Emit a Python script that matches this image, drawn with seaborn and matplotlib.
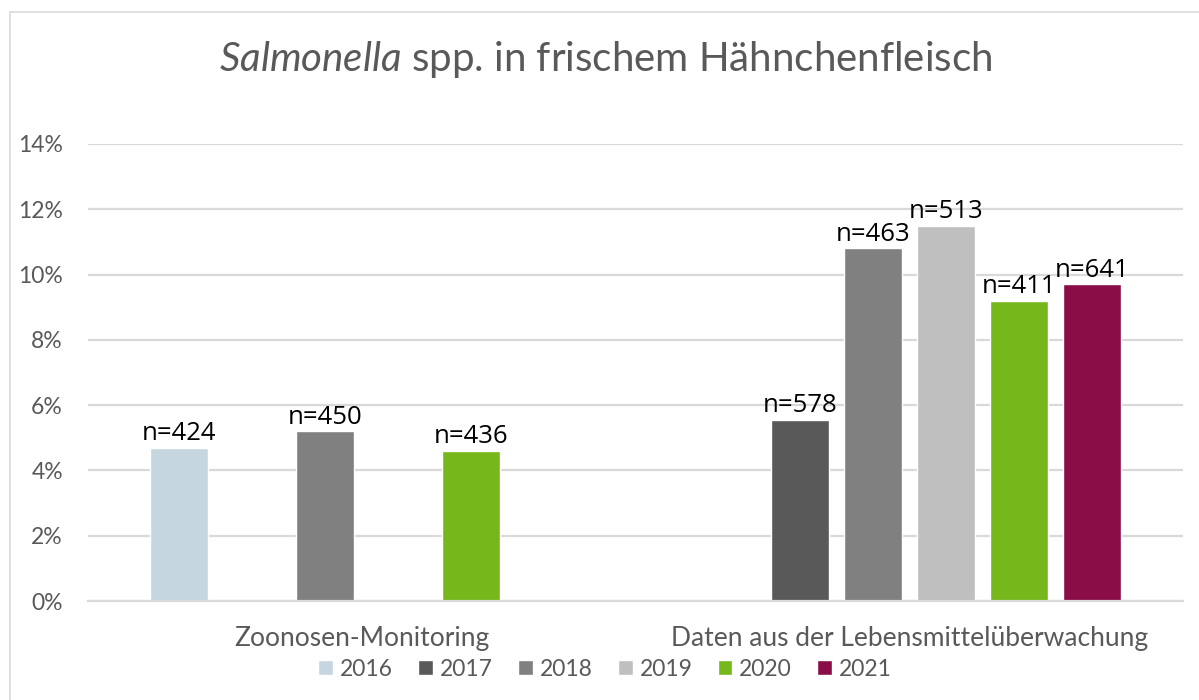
import matplotlib
matplotlib.use("Agg")
import matplotlib.pyplot as plt
import seaborn as sns
import pandas as pd
from matplotlib.ticker import PercentFormatter, MultipleLocator
from matplotlib.patches import Rectangle

# ---- data ----
categories = ["Zoonosen-Monitoring", "Daten aus der Lebensmittelüberwachung"]
years = ["2016", "2017", "2018", "2019", "2020", "2021"]
zoonosen_years = ["2016", "2018", "2020"]
zoonosen_values = [4.7, 5.2, 4.6]
zoonosen_n = [424, 450, 436]
lmu_years = ["2017", "2018", "2019", "2020", "2021"]
lmu_values = [5.55, 10.8, 11.5, 9.2, 9.7]
lmu_n = [578, 463, 513, 411, 641]
colors = ["#C5D6E0", "#595959", "#808080", "#BFBFBF", "#76B71B", "#8A0D47"]
title_text = r"$\mathit{Salmonella}$ spp. in frischem Hähnchenfleisch"

rows = []
for y, v, n in zip(zoonosen_years, zoonosen_values, zoonosen_n):
    rows.append({"Kategorie": categories[0], "Jahr": y, "Anteil": v, "n": n})
for y, v, n in zip(lmu_years, lmu_values, lmu_n):
    rows.append({"Kategorie": categories[1], "Jahr": y, "Anteil": v, "n": n})
df = pd.DataFrame(rows)

sns.set_style("white")
plt.rcParams["font.family"] = ["Lato", "DejaVu Sans"]
plt.rcParams["mathtext.fontset"] = "custom"
plt.rcParams["mathtext.rm"] = "Lato"
plt.rcParams["mathtext.it"] = "Lato:italic"

text_gray = "#595959"
grid_gray = "#D9D9D9"

fig = plt.figure(figsize=(11.99, 7.0), dpi=100)
ax = fig.add_axes([88 / 1199, 1 - 601 / 700, (1183 - 88) / 1199, (601 - 144) / 700])

sns.barplot(data=df, x="Kategorie", y="Anteil", hue="Jahr",
            order=categories, hue_order=years, palette=colors,
            width=0.8, gap=0.2, dodge=True, errorbar=None, ax=ax,
            saturation=1, legend=True)

# data labels
for year, cont in zip(years, ax.containers):
    sub = df[df["Jahr"] == year]
    sub = sub.set_index("Kategorie").reindex([c for c in categories if c in set(sub["Kategorie"])])
    labels = [f"n={n}" for n in sub["n"]]
    ax.bar_label(cont, labels=labels, padding=1, fontsize=18.5,
                 family=["Open Sans", "DejaVu Sans"], color="black")

ax.set_ylim(0, 14)
ax.set_xlim(-0.5, 1.5)
ax.yaxis.set_major_locator(MultipleLocator(2))
ax.yaxis.set_major_formatter(PercentFormatter(xmax=100, decimals=0))
ax.grid(axis="y", color=grid_gray, linewidth=1.6)
ax.set_axisbelow(True)
for s in ["top", "right", "left"]:
    ax.spines[s].set_visible(False)
ax.spines["bottom"].set_color(grid_gray)
ax.spines["bottom"].set_linewidth(1.6)
ax.tick_params(axis="y", length=0, pad=18, labelsize=16.5, labelcolor=text_gray)
ax.tick_params(axis="x", length=0, pad=18, labelsize=19, labelcolor=text_gray)
ax.set_xlabel("")
ax.set_ylabel("")

# legend
handles, labels = ax.get_legend_handles_labels()
ax.legend_.remove()
fig.legend(handles, labels, loc="center", bbox_to_anchor=(605 / 1199, 1 - 669 / 700),
           ncol=6, frameon=False, fontsize=16.5, labelcolor=text_gray,
           handlelength=0.65, handleheight=0.65, handletextpad=0.3,
           columnspacing=1.1, borderaxespad=0, borderpad=0)

fig.text(606 / 1199, 1 - 60 / 700, title_text, ha="center", va="center",
         fontsize=29, color=text_gray)

# chart frame
fig.patches.append(Rectangle((10 / 1199, -0.1), 1.2, 1 - 12 / 700 + 0.1,
                             transform=fig.transFigure, fill=False,
                             edgecolor="#D9D9D9", linewidth=1.2))

fig.savefig("out.png", dpi=100)
